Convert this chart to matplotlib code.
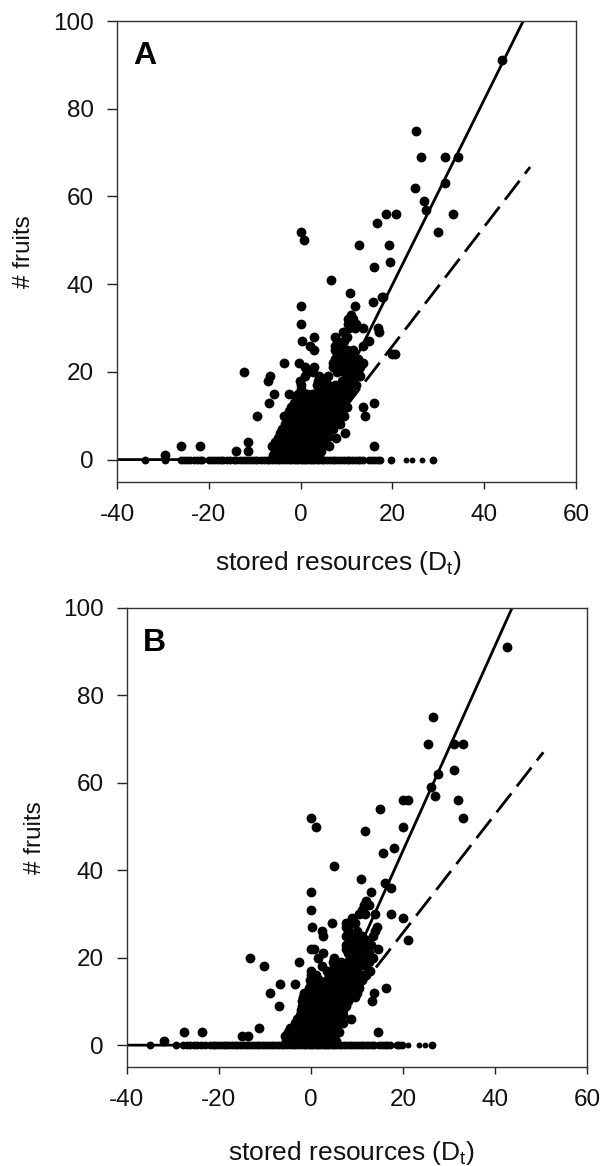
import matplotlib
matplotlib.use('Agg')
import matplotlib.pyplot as plt

plt.rcParams['font.family'] = ['Liberation Sans', 'DejaVu Sans']
plt.rcParams['axes.unicode_minus'] = False
plt.rcParams['mathtext.default'] = 'regular'

x_ticks = [-40, -20, 0, 20, 40, 60]
y_ticks = [0, 20, 40, 60, 80, 100]

# fitted lines (x, y)
a_solid_x = [-40, 1.1, 48.5]
a_solid_y = [0, 0, 100]
a_dash_x = [1, 50]
a_dash_y = [0, 66.7]
b_solid_x = [-40, 1, 43.7]
b_solid_y = [0, 0, 100]
b_dash_x = [1, 50.5]
b_dash_y = [0, 67]

# plants with no fruit, panel A
a_zero_x = [-34, -29.5, -26, -25.4, -24.7, -24, -23.3, -22.6, -22, -21.5, -20, -19.4, -18.7, -18, -17.4, -16.8,
            -16, -15.3, -14.6, -14, -13.3, -12.6, -12, -11.3, -10.6, -10, -9.4, -8.7, -8, -7.4, -6.8, -6.2, -5.5,
            -5, -4.4, -3.8, -3.2, -2.6, -2, -1.5, -1, -.5, 0, .5, 1, 1.5, 2, 2.5, 3, 3.5, 4, 4.6, 5.2, 5.8, 6.4,
            7, 7.6, 8.2, 8.8, 9.4, 10, 10.6, 11.2, 11.8, 12.4, 13, 13.6, 15, 15.6, 16.2, 16.8, 17.4, 19.7, 28.9]
a_zero_small_x = [23, 24.3, 26.4]
# panel A, fruits above zero: one list of stored resources per fruit count
a_fruits = [1, 2, 3, 4, 5, 6, 7, 8, 9, 10, 11, 12, 13, 14, 15, 16, 17, 18, 19, 20, 21, 22, 23, 24, 25, 26, 27, 28,
            29, 30, 31, 32, 33, 35, 36, 37, 38, 41, 44, 45, 49, 50, 52, 54, 56, 57, 59, 62, 63, 69, 75, 91]
a_res = [[-29.5, -6, -4.5, -3, -2, -1, 0, .5, 1, 1.5, 2, 3, 4],
         [-14, -11.5, -5.5, -4, -2.5, -1, 0, .5, 1, 1.5, 2, 2.5, 3, 3.5, 4.5],
         [-26, -22, -6.2, -5, -3, -1.5, -.5, 0, .5, 1, 1.5, 2, 3, 3.5, 4.5, 6.1, 15.9],
         [-11.5, -5.5, -4.5, -3, -1, 0, .5, 1, 1.5, 2.5, 3, 4, 5],
         [-5, -4, -2, -.5, .5, 1, 2, 2.5, 3.5, 4.5, 5.8, 7.8],
         [-4.5, -3, -1, 0, 1, 2, 3, 4, 5, 6, 9.7],
         [-4, -2, -.5, .5, 1.5, 2.5, 3.5, 4.5, 5.5, 7],
         [-3.5, -1.5, 0, 1, 2, 3, 4, 5, 6, 7.5, 8.5],
         [-3, -1, .5, 1.5, 2.5, 4, 5, 6, 7, 8],
         [-9.6, -3.6, -2.5, -.5, 1, 2, 3, 4, 5, 6, 7, 8, 9.5, 14],
         [-2.5, -1, 0, 1.5, 3, 4.5, 5.5, 6.5, 8, 9],
         [-2, -.5, .5, 2, 3.5, 5, 6, 7, 8.5, 10, 13.7],
         [-6.8, -1.5, 0, 1, 2.5, 4, 5.5, 7, 8, 9.5, 16],
         [-1, 0, 1.5, 3, 4.5, 6, 7.5, 9, 10],
         [-5.7, -2.6, -.5, .5, 1.5, 2.5, 3, 4, 5, 6.5, 8, 10.5],
         [0, 4, 5, 6.5, 8, 9.5, 11],
         [0, 3.5, 5, 6, 7.5, 9, 11.5, 12],
         [-7, -.2, 3.8, 5.4, 5, 9, 10.5, 11.5],
         [-6.7, 1, 4, 6, 10, 12, 13],
         [-12.3, 1.5, 2.8, 8, 9.5, 11, 12.5],
         [1, 3, 7, 9, 10.5, 12, 13],
         [-3.6, -.3, 7, 8, 10, 11.5, 13.5],
         [7.5, 9, 10.5, 12.5],
         [8, 9.5, 11, 20, 20.5],
         [3, 7.5, 8.5, 10, 11.5],
         [2, 7.5, 9, 13.5],
         [.2, 15, 8, 9.5],
         [3, 7.5, 10],
         [9.2, 17],
         [11.8, 13.5, 16.8, 10.5],
         [0, 10.4, 12],
         [10.3, 11.5],
         [11],
         [0, 11.8],
         [15.7],
         [17.7, 18],
         [10.8],
         [6.7],
         [15.9],
         [19.5],
         [12.7, 19.3],
         [.8],
         [0, 30],
         [16.7],
         [18.7, 20.7, 33.1],
         [27.3],
         [26.8],
         [24.9],
         [31.5],
         [26.2, 31.5, 34.4],
         [25.1],
         [43.9]]

# plants with no fruit, panel B
b_zero_x = [-35, -29.4, -27.8, -27, -26.2, -25.5, -24.8, -24, -23, -22, -21.4, -20.8, -20.2, -19.6, -19, -18.4, -17.8,
            -17.2, -16.6, -16, -15.4, -14.8, -14.2, -13.6, -13, -12.4, -11.8, -11.2, -10.6, -10, -9.4, -8.8, -8.2,
            -7.6, -7, -6.4, -5.8, -5.2, -4.6, -4, -3.4, -2.8, -2.2, -1.6, -1, -.5, 0, .5, 1, 1.5, 2, 2.5, 3, 3.5,
            4, 4.5, 5, 5.5, 6, 6.6, 7.2, 7.8, 8.4, 9, 9.6, 10.2, 10.8, 11.4, 12, 12.6, 13.2, 13.8, 14.8, 15.4,
            16, 16.6, 17.2, 18.6, 19.2, 19.8, 26.3]
b_zero_small_x = [21, 23.5, 24.8]
b_fruits = [1, 2, 3, 4, 5, 6, 7, 8, 9, 10, 11, 12, 13, 14, 15, 16, 17, 18, 19, 20, 21, 22, 23, 24, 25, 26, 27, 28,
            29, 30, 31, 32, 33, 35, 36, 37, 38, 41, 44, 45, 49, 50, 52, 54, 56, 57, 59, 62, 63, 69, 75, 91]
b_res = [[-32, -5.5, -4.5, -3.5, -2.5, -1.5, -.5, 0, .5, 1, 1.5, 2, 2.5, 3, 3.5, 4, 5, 5.5],
         [-15, -13.8, -5.6, -4.5, -3.5, -2.5, -1.5, -.5, 0, .5, 1, 1.5, 2, 2.5, 3, 4, 5],
         [-27.7, -23.8, -5, -4, -3, -2, -1, 0, .5, 1, 1.5, 2, 3, 4, 5, 6, 14.5],
         [-11.3, -4.5, -3.5, -2.5, -1.5, -.5, 0, .5, 1, 1.5, 2, 3, 4, 5, 5.5],
         [-3.5, -2.5, -1.5, -.5, .5, 1, 2, 3, 4, 5, 7],
         [-3, -2, -1, 0, 1, 2, 3, 4, 5, 6, 8.7],
         [-2.5, -1.5, -.5, .5, 1.5, 2.5, 3.5, 4.5, 5.5, 7],
         [-2.1, -1, 0, 1, 2, 3, 4, 5, 6, 7],
         [-7, -2, -.5, .5, 1.5, 2.5, 3.5, 4.5, 5.5, 6.5, 7.5],
         [-2, -1, 0, 1, 2, 3, 4, 5, 6, 7, 8, 13.3],
         [-1.8, -.5, .5, 1.5, 2.5, 3.5, 4.5, 5.5, 6.5, 7.5, 8.5, 9.5],
         [-8.9, -1.5, 0, 1, 2, 3, 4, 5, 6, 7, 8, 9, 10, 13.7],
         [-.5, 1, 2.5, 3, 4.5, 6, 7, 8, 9, 10.5, 16.2],
         [-6.7, -3.4, 0, 1, 2.5, 4, 5, 6, 7, 8, 9.5],
         [-.3, 1.7, 3.5, 5, 6, 7.5, 8.5, 10.5, 11],
         [0, 1, 4, 5.5, 6.5, 8, 9, 11, 12],
         [0, 3.5, 5, 6, 7, 8.5, 10, 12.9],
         [-10.3, 2.4, 5, 6, 7, 9.5, 10.5, 12],
         [-2.6, 4.8, 6.5, 8, 10.5, 11.5, 12.5],
         [-13.2, 1.5, 5, 8.5, 10, 11, 13.5],
         [2.5, 8, 9.5, 11, 12.5],
         [0, .6, 7.5, 8.5, 10, 12, 14.5],
         [7.5, 9, 11, 13],
         [9, 10, 12, 21],
         [2.7, 7.5, 9.5, 11, 13.5],
         [2.4, 8, 10, 14],
         [.3, 14.4, 8, 7.5],
         [4.5, 7.5, 9.5],
         [9, 20],
         [11.8, 14, 17.3, 10.5],
         [0, 11],
         [12.5, 11.5],
         [12],
         [0, 13],
         [17.3],
         [16],
         [10.9],
         [5],
         [15.7],
         [18],
         [11.8],
         [1.1, 19.9],
         [0, 33],
         [15.1],
         [20, 21, 32],
         [27],
         [26],
         [27.5],
         [31],
         [25.5, 31, 33],
         [26.5],
         [42.5]]

fig = plt.figure(figsize=(6.03, 11.66), dpi=100)
W, H = 603.0, 1166.0


def draw_panel(box, letter, zero_x, zero_small_x, fruits, res, solid, dash, xlab_xy, ylab_x):
    left, top, right, bottom = box
    ax = fig.add_axes([left / W, 1 - bottom / H, (right - left) / W, (bottom - top) / H])
    ax.plot(solid[0], solid[1], color='black', lw=2, zorder=2)
    ax.plot(dash[0], dash[1], color='black', lw=2, dashes=(8.6, 3.2), dash_capstyle='butt', zorder=2)
    ax.scatter(zero_x, [0] * len(zero_x), s=32, color='black', linewidths=0, zorder=3)
    ax.scatter(zero_small_x, [0] * len(zero_small_x), s=18, color='black', linewidths=0, zorder=3)
    for n, xs in zip(fruits, res):
        ax.scatter(xs, [n] * len(xs), s=50, color='black', linewidths=0, zorder=3)
    ax.set_xlim(-40, 60)
    ax.set_ylim(-5, 100)
    ax.set_xticks(x_ticks)
    ax.set_yticks(y_ticks)
    ax.tick_params(labelsize=17.5, width=1, color='#222222', labelcolor='#111111')
    ax.tick_params(axis='y', length=7, pad=9.5)
    ax.tick_params(axis='x', length=5, pad=11)
    for s in ax.spines.values():
        s.set_linewidth(1)
        s.set_color('#333333')
    ax.set_xlabel(r'stored resources (D$_{t}$)', fontsize=19, color='#111111', va='center')
    ax.xaxis.set_label_coords(xlab_xy[0], xlab_xy[1])
    ax.set_ylabel('# fruits', fontsize=17.5, color='#111111', va='center')
    ax.yaxis.set_label_coords(ylab_x, 0.5)
    ax.text(-36.5, 92, letter, fontsize=23, fontweight='bold', color='black', ha='left', va='center')
    return ax


draw_panel((117, 21, 576, 481.5), 'A', a_zero_x, a_zero_small_x, a_fruits, a_res,
           (a_solid_x, a_solid_y), (a_dash_x, a_dash_y), (0.4815, -0.176), -0.203)
draw_panel((127, 608, 587, 1067), 'B', b_zero_x, b_zero_small_x, b_fruits, b_res,
           (b_solid_x, b_solid_y), (b_dash_x, b_dash_y), (0.489, -0.187), -0.200)

fig.savefig('out.png', dpi=100)
